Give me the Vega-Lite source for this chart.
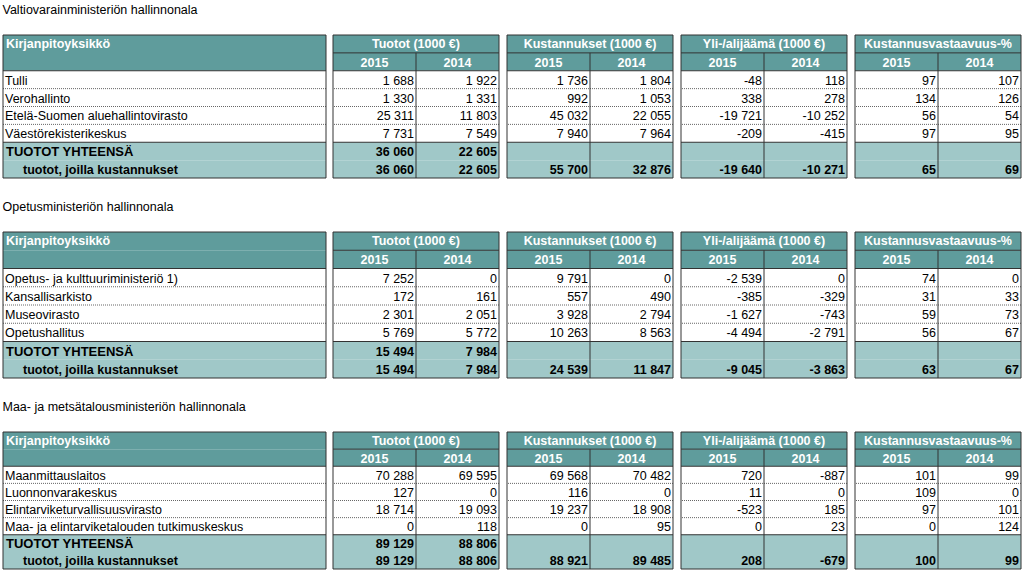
{
"$schema":"https://vega.github.io/schema/vega-lite/v6.json",
"padding":{"left":2,"top":4,"right":0,"bottom":0},
"background":"#ffffff",
"config":{"font":"Liberation Sans","view":{"stroke":null},
 "title":{"anchor":"start","fontSize":12.5,"fontWeight":"normal","color":"#000000","offset":18,"font":"Liberation Sans"},
 "locale":{"number":{"decimal":",","thousands":" ","grouping":[3],"currency":["","€"],"minus":"-"}}},
"datasets":{"tbl":[
{"s":1,"g":"lbl","r":"h1","t":"Kirjanpitoyksikkö"},{"s":1,"g":"lbl","r":"h2"},
{"s":1,"g":"lbl","r":"r1","t":"Tulli"},{"s":1,"g":"lbl","r":"r2","t":"Verohallinto"},
{"s":1,"g":"lbl","r":"r3","t":"Etelä-Suomen aluehallintovirasto"},{"s":1,"g":"lbl","r":"r4","t":"Väestörekisterikeskus"},
{"s":1,"g":"lbl","r":"t1","t":"TUOTOT YHTEENSÄ"},{"s":1,"g":"lbl","r":"t2","t":"tuotot, joilla kustannukset"},
{"s":1,"g":"tuo","r":"h1","t":"Tuotot (1000 €)"},{"s":1,"g":"tuo","r":"h2"},
{"s":1,"g":"tuo","r":"r1","2015":1688,"2014":1922},{"s":1,"g":"tuo","r":"r2","2015":1330,"2014":1331},
{"s":1,"g":"tuo","r":"r3","2015":25311,"2014":11803},{"s":1,"g":"tuo","r":"r4","2015":7731,"2014":7549},
{"s":1,"g":"tuo","r":"t1","2015":36060,"2014":22605},{"s":1,"g":"tuo","r":"t2","2015":36060,"2014":22605},
{"s":1,"g":"kus","r":"h1","t":"Kustannukset (1000 €)"},{"s":1,"g":"kus","r":"h2"},
{"s":1,"g":"kus","r":"r1","2015":1736,"2014":1804},{"s":1,"g":"kus","r":"r2","2015":992,"2014":1053},
{"s":1,"g":"kus","r":"r3","2015":45032,"2014":22055},{"s":1,"g":"kus","r":"r4","2015":7940,"2014":7964},
{"s":1,"g":"kus","r":"t1"},{"s":1,"g":"kus","r":"t2","2015":55700,"2014":32876},
{"s":1,"g":"yli","r":"h1","t":"Yli-/alijäämä (1000 €)"},{"s":1,"g":"yli","r":"h2"},
{"s":1,"g":"yli","r":"r1","2015":-48,"2014":118},{"s":1,"g":"yli","r":"r2","2015":338,"2014":278},
{"s":1,"g":"yli","r":"r3","2015":-19721,"2014":-10252},{"s":1,"g":"yli","r":"r4","2015":-209,"2014":-415},
{"s":1,"g":"yli","r":"t1"},{"s":1,"g":"yli","r":"t2","2015":-19640,"2014":-10271},
{"s":1,"g":"kv","r":"h1","t":"Kustannusvastaavuus-%"},{"s":1,"g":"kv","r":"h2"},
{"s":1,"g":"kv","r":"r1","2015":97,"2014":107},{"s":1,"g":"kv","r":"r2","2015":134,"2014":126},
{"s":1,"g":"kv","r":"r3","2015":56,"2014":54},{"s":1,"g":"kv","r":"r4","2015":97,"2014":95},
{"s":1,"g":"kv","r":"t1"},{"s":1,"g":"kv","r":"t2","2015":65,"2014":69},

{"s":2,"g":"lbl","r":"h1","t":"Kirjanpitoyksikkö"},{"s":2,"g":"lbl","r":"h2"},
{"s":2,"g":"lbl","r":"r1","t":"Opetus- ja kulttuuriministeriö 1)"},{"s":2,"g":"lbl","r":"r2","t":"Kansallisarkisto"},
{"s":2,"g":"lbl","r":"r3","t":"Museovirasto"},{"s":2,"g":"lbl","r":"r4","t":"Opetushallitus"},
{"s":2,"g":"lbl","r":"t1","t":"TUOTOT YHTEENSÄ"},{"s":2,"g":"lbl","r":"t2","t":"tuotot, joilla kustannukset"},
{"s":2,"g":"tuo","r":"h1","t":"Tuotot (1000 €)"},{"s":2,"g":"tuo","r":"h2"},
{"s":2,"g":"tuo","r":"r1","2015":7252,"2014":0},{"s":2,"g":"tuo","r":"r2","2015":172,"2014":161},
{"s":2,"g":"tuo","r":"r3","2015":2301,"2014":2051},{"s":2,"g":"tuo","r":"r4","2015":5769,"2014":5772},
{"s":2,"g":"tuo","r":"t1","2015":15494,"2014":7984},{"s":2,"g":"tuo","r":"t2","2015":15494,"2014":7984},
{"s":2,"g":"kus","r":"h1","t":"Kustannukset (1000 €)"},{"s":2,"g":"kus","r":"h2"},
{"s":2,"g":"kus","r":"r1","2015":9791,"2014":0},{"s":2,"g":"kus","r":"r2","2015":557,"2014":490},
{"s":2,"g":"kus","r":"r3","2015":3928,"2014":2794},{"s":2,"g":"kus","r":"r4","2015":10263,"2014":8563},
{"s":2,"g":"kus","r":"t1"},{"s":2,"g":"kus","r":"t2","2015":24539,"2014":11847},
{"s":2,"g":"yli","r":"h1","t":"Yli-/alijäämä (1000 €)"},{"s":2,"g":"yli","r":"h2"},
{"s":2,"g":"yli","r":"r1","2015":-2539,"2014":0},{"s":2,"g":"yli","r":"r2","2015":-385,"2014":-329},
{"s":2,"g":"yli","r":"r3","2015":-1627,"2014":-743},{"s":2,"g":"yli","r":"r4","2015":-4494,"2014":-2791},
{"s":2,"g":"yli","r":"t1"},{"s":2,"g":"yli","r":"t2","2015":-9045,"2014":-3863},
{"s":2,"g":"kv","r":"h1","t":"Kustannusvastaavuus-%"},{"s":2,"g":"kv","r":"h2"},
{"s":2,"g":"kv","r":"r1","2015":74,"2014":0},{"s":2,"g":"kv","r":"r2","2015":31,"2014":33},
{"s":2,"g":"kv","r":"r3","2015":59,"2014":73},{"s":2,"g":"kv","r":"r4","2015":56,"2014":67},
{"s":2,"g":"kv","r":"t1"},{"s":2,"g":"kv","r":"t2","2015":63,"2014":67},

{"s":3,"g":"lbl","r":"h1","t":"Kirjanpitoyksikkö"},{"s":3,"g":"lbl","r":"h2"},
{"s":3,"g":"lbl","r":"r1","t":"Maanmittauslaitos"},{"s":3,"g":"lbl","r":"r2","t":"Luonnonvarakeskus"},
{"s":3,"g":"lbl","r":"r3","t":"Elintarviketurvallisuusvirasto"},{"s":3,"g":"lbl","r":"r4","t":"Maa- ja elintarviketalouden tutkimuskeskus"},
{"s":3,"g":"lbl","r":"t1","t":"TUOTOT YHTEENSÄ"},{"s":3,"g":"lbl","r":"t2","t":"tuotot, joilla kustannukset"},
{"s":3,"g":"tuo","r":"h1","t":"Tuotot (1000 €)"},{"s":3,"g":"tuo","r":"h2"},
{"s":3,"g":"tuo","r":"r1","2015":70288,"2014":69595},{"s":3,"g":"tuo","r":"r2","2015":127,"2014":0},
{"s":3,"g":"tuo","r":"r3","2015":18714,"2014":19093},{"s":3,"g":"tuo","r":"r4","2015":0,"2014":118},
{"s":3,"g":"tuo","r":"t1","2015":89129,"2014":88806},{"s":3,"g":"tuo","r":"t2","2015":89129,"2014":88806},
{"s":3,"g":"kus","r":"h1","t":"Kustannukset (1000 €)"},{"s":3,"g":"kus","r":"h2"},
{"s":3,"g":"kus","r":"r1","2015":69568,"2014":70482},{"s":3,"g":"kus","r":"r2","2015":116,"2014":0},
{"s":3,"g":"kus","r":"r3","2015":19237,"2014":18908},{"s":3,"g":"kus","r":"r4","2015":0,"2014":95},
{"s":3,"g":"kus","r":"t1"},{"s":3,"g":"kus","r":"t2","2015":88921,"2014":89485},
{"s":3,"g":"yli","r":"h1","t":"Yli-/alijäämä (1000 €)"},{"s":3,"g":"yli","r":"h2"},
{"s":3,"g":"yli","r":"r1","2015":720,"2014":-887},{"s":3,"g":"yli","r":"r2","2015":11,"2014":0},
{"s":3,"g":"yli","r":"r3","2015":-523,"2014":185},{"s":3,"g":"yli","r":"r4","2015":0,"2014":23},
{"s":3,"g":"yli","r":"t1"},{"s":3,"g":"yli","r":"t2","2015":208,"2014":-679},
{"s":3,"g":"kv","r":"h1","t":"Kustannusvastaavuus-%"},{"s":3,"g":"kv","r":"h2"},
{"s":3,"g":"kv","r":"r1","2015":101,"2014":99},{"s":3,"g":"kv","r":"r2","2015":109,"2014":0},
{"s":3,"g":"kv","r":"r3","2015":97,"2014":101},{"s":3,"g":"kv","r":"r4","2015":0,"2014":124},
{"s":3,"g":"kv","r":"t1"},{"s":3,"g":"kv","r":"t2","2015":100,"2014":99}
]},
"vconcat":[
{"title":"Valtiovarainministeriön hallinnonala","spacing":5,"hconcat":[
 {"width":323,"height":143,"data":{"name":"tbl"},"transform":[{"filter":"datum.s==1 && datum.g=='lbl'"}],
  "layer":[
   {"mark":{"type":"rect"},"encoding":{"x":{"value":0},"x2":{"value":"width"},"y":{"field":"r","type":"nominal","scale":{"type":"band","domain":["h1","h2","r1","r2","r3","r4","t1","t2"],"paddingInner":0,"paddingOuter":0},"axis":null},"fill":{"field":"r","type":"nominal","scale":{"domain":["h1","h2","r1","r2","r3","r4","t1","t2"],"range":["#5f9c9c","#5f9c9c","#ffffff","#ffffff","#ffffff","#ffffff","#a0c8c8","#a0c8c8"]},"legend":null}}},
   {"transform":[{"filter":"datum.r=='r1'||datum.r=='t1'"}],"mark":{"type":"rule","color":"#333333"},"encoding":{"y":{"field":"r","type":"nominal","bandPosition":0,"scale":{"type":"band","domain":["h1","h2","r1","r2","r3","r4","t1","t2"],"paddingInner":0,"paddingOuter":0},"axis":null}}},
   {"transform":[{"filter":"datum.r=='r2'||datum.r=='r3'||datum.r=='r4'"}],"mark":{"type":"rule","color":"#666666","strokeDash":[1,1]},"encoding":{"y":{"field":"r","type":"nominal","bandPosition":0,"scale":{"type":"band","domain":["h1","h2","r1","r2","r3","r4","t1","t2"],"paddingInner":0,"paddingOuter":0},"axis":null}}},
   {"transform":[{"filter":"datum.r=='h1'"}],"mark":{"type":"text","align":"left","baseline":"middle","dx":3,"fontSize":12.5,"fontWeight":"bold","color":"#ffffff"},"encoding":{"x":{"field":"g","type":"nominal","bandPosition":0,"scale":{"type":"band","paddingInner":0,"paddingOuter":0},"axis":null},"y":{"field":"r","type":"nominal","bandPosition":0.5,"scale":{"type":"band","domain":["h1","h2","r1","r2","r3","r4","t1","t2"],"paddingInner":0,"paddingOuter":0},"axis":null},"text":{"field":"t"}}},
   {"transform":[{"filter":"indexof(['r1','r2','r3','r4'],datum.r)>=0"}],"mark":{"type":"text","align":"left","baseline":"middle","dx":2,"dy":1,"fontSize":12.5,"color":"#000000"},"encoding":{"x":{"field":"g","type":"nominal","bandPosition":0,"scale":{"type":"band","paddingInner":0,"paddingOuter":0},"axis":null},"y":{"field":"r","type":"nominal","bandPosition":0.5,"scale":{"type":"band","domain":["h1","h2","r1","r2","r3","r4","t1","t2"],"paddingInner":0,"paddingOuter":0},"axis":null},"text":{"field":"t"}}},
   {"transform":[{"filter":"datum.r=='t1'"}],"mark":{"type":"text","align":"left","baseline":"middle","dx":3,"dy":1,"fontSize":13,"fontWeight":"bold","color":"#000000"},"encoding":{"x":{"field":"g","type":"nominal","bandPosition":0,"scale":{"type":"band","paddingInner":0,"paddingOuter":0},"axis":null},"y":{"field":"r","type":"nominal","bandPosition":0.5,"scale":{"type":"band","domain":["h1","h2","r1","r2","r3","r4","t1","t2"],"paddingInner":0,"paddingOuter":0},"axis":null},"text":{"field":"t"}}},
   {"transform":[{"filter":"datum.r=='t2'"}],"mark":{"type":"text","align":"left","baseline":"middle","dx":20,"dy":1,"fontSize":12.5,"fontWeight":"bold","color":"#000000"},"encoding":{"x":{"field":"g","type":"nominal","bandPosition":0,"scale":{"type":"band","paddingInner":0,"paddingOuter":0},"axis":null},"y":{"field":"r","type":"nominal","bandPosition":0.5,"scale":{"type":"band","domain":["h1","h2","r1","r2","r3","r4","t1","t2"],"paddingInner":0,"paddingOuter":0},"axis":null},"text":{"field":"t"}}},
   {"transform":[{"filter":"datum.r=='h1'"}],"mark":{"type":"rect","fillOpacity":0,"stroke":"#333333","strokeWidth":1},"encoding":{"x":{"value":0},"x2":{"value":"width"},"y":{"value":0},"y2":{"value":"height"}}}
  ]},
 {"data":{"name":"tbl"},"transform":[{"filter":"datum.s==1 && datum.g!='lbl'"},{"fold":["2015","2014"],"as":["c","v"]}],
  "facet":{"column":{"field":"g","type":"nominal","sort":["tuo","kus","yli","kv"],"title":null,"header":{"labels":false,"title":null}}},
  "spacing":6,
  "spec":{"width":166,"height":143,"layer":[
   {"transform":[{"filter":"datum.c=='2015'"}],"mark":{"type":"rect"},"encoding":{"x":{"value":0},"x2":{"value":"width"},"y":{"field":"r","type":"nominal","scale":{"type":"band","domain":["h1","h2","r1","r2","r3","r4","t1","t2"],"paddingInner":0,"paddingOuter":0},"axis":null},"fill":{"field":"r","type":"nominal","scale":{"domain":["h1","h2","r1","r2","r3","r4","t1","t2"],"range":["#5f9c9c","#5f9c9c","#ffffff","#ffffff","#ffffff","#ffffff","#a0c8c8","#a0c8c8"]},"legend":null}}},
   {"transform":[{"filter":"datum.c=='2015' && (datum.r=='h2'||datum.r=='r1'||datum.r=='t1')"}],"mark":{"type":"rule","color":"#333333"},"encoding":{"y":{"field":"r","type":"nominal","bandPosition":0,"scale":{"type":"band","domain":["h1","h2","r1","r2","r3","r4","t1","t2"],"paddingInner":0,"paddingOuter":0},"axis":null}}},
   {"transform":[{"filter":"datum.c=='2015' && (datum.r=='r2'||datum.r=='r3'||datum.r=='r4')"}],"mark":{"type":"rule","color":"#666666","strokeDash":[1,1]},"encoding":{"y":{"field":"r","type":"nominal","bandPosition":0,"scale":{"type":"band","domain":["h1","h2","r1","r2","r3","r4","t1","t2"],"paddingInner":0,"paddingOuter":0},"axis":null}}},
   {"transform":[{"filter":"datum.c=='2014' && datum.r=='h2'"}],"mark":{"type":"rule","color":"#333333"},"encoding":{"x":{"field":"c","type":"nominal","bandPosition":0,"scale":{"type":"band","domain":["2015","2014"],"paddingInner":0,"paddingOuter":0},"axis":null},"y":{"field":"r","type":"nominal","bandPosition":0,"scale":{"type":"band","domain":["h1","h2","r1","r2","r3","r4","t1","t2"],"paddingInner":0,"paddingOuter":0},"axis":null},"y2":{"value":"height"}}},
   {"transform":[{"filter":"datum.c=='2014' && datum.r=='h1'"}],"mark":{"type":"text","align":"center","baseline":"middle","fontSize":12.5,"fontWeight":"bold","color":"#ffffff"},"encoding":{"x":{"field":"c","type":"nominal","bandPosition":0,"scale":{"type":"band","domain":["2015","2014"],"paddingInner":0,"paddingOuter":0},"axis":null},"y":{"field":"r","type":"nominal","bandPosition":0.5,"scale":{"type":"band","domain":["h1","h2","r1","r2","r3","r4","t1","t2"],"paddingInner":0,"paddingOuter":0},"axis":null},"text":{"field":"t"}}},
   {"transform":[{"filter":"datum.r=='h2'"}],"mark":{"type":"text","align":"center","baseline":"middle","dy":1,"fontSize":12.5,"fontWeight":"bold","color":"#ffffff"},"encoding":{"x":{"field":"c","type":"nominal","bandPosition":0.5,"scale":{"type":"band","domain":["2015","2014"],"paddingInner":0,"paddingOuter":0},"axis":null},"y":{"field":"r","type":"nominal","bandPosition":0.5,"scale":{"type":"band","domain":["h1","h2","r1","r2","r3","r4","t1","t2"],"paddingInner":0,"paddingOuter":0},"axis":null},"text":{"field":"c"}}},
   {"transform":[{"filter":"isValid(datum.v) && indexof(['r1','r2','r3','r4'],datum.r)>=0"}],"mark":{"type":"text","align":"right","baseline":"middle","dx":-2,"dy":1,"fontSize":12.5,"color":"#000000"},"encoding":{"x":{"field":"c","type":"nominal","bandPosition":1,"scale":{"type":"band","domain":["2015","2014"],"paddingInner":0,"paddingOuter":0},"axis":null},"y":{"field":"r","type":"nominal","bandPosition":0.5,"scale":{"type":"band","domain":["h1","h2","r1","r2","r3","r4","t1","t2"],"paddingInner":0,"paddingOuter":0},"axis":null},"text":{"field":"v","type":"quantitative","format":",d"}}},
   {"transform":[{"filter":"isValid(datum.v) && (datum.r=='t1'||datum.r=='t2')"}],"mark":{"type":"text","align":"right","baseline":"middle","dx":-2,"dy":1,"fontSize":12.5,"fontWeight":"bold","color":"#000000"},"encoding":{"x":{"field":"c","type":"nominal","bandPosition":1,"scale":{"type":"band","domain":["2015","2014"],"paddingInner":0,"paddingOuter":0},"axis":null},"y":{"field":"r","type":"nominal","bandPosition":0.5,"scale":{"type":"band","domain":["h1","h2","r1","r2","r3","r4","t1","t2"],"paddingInner":0,"paddingOuter":0},"axis":null},"text":{"field":"v","type":"quantitative","format":",d"}}},
   {"transform":[{"filter":"datum.c=='2015' && datum.r=='h1'"}],"mark":{"type":"rect","fillOpacity":0,"stroke":"#333333","strokeWidth":1},"encoding":{"x":{"value":0},"x2":{"value":"width"},"y":{"value":0},"y2":{"value":"height"}}}
  ]}}
]},
{"title":"Opetusministeriön hallinnonala","spacing":5,"hconcat":[
 {"width":323,"height":146,"data":{"name":"tbl"},"transform":[{"filter":"datum.s==2 && datum.g=='lbl'"}],
  "layer":[
   {"mark":{"type":"rect"},"encoding":{"x":{"value":0},"x2":{"value":"width"},"y":{"field":"r","type":"nominal","scale":{"type":"band","domain":["h1","h2","r1","r2","r3","r4","t1","t2"],"paddingInner":0,"paddingOuter":0},"axis":null},"fill":{"field":"r","type":"nominal","scale":{"domain":["h1","h2","r1","r2","r3","r4","t1","t2"],"range":["#5f9c9c","#5f9c9c","#ffffff","#ffffff","#ffffff","#ffffff","#a0c8c8","#a0c8c8"]},"legend":null}}},
   {"transform":[{"filter":"datum.r=='r1'||datum.r=='t1'"}],"mark":{"type":"rule","color":"#333333"},"encoding":{"y":{"field":"r","type":"nominal","bandPosition":0,"scale":{"type":"band","domain":["h1","h2","r1","r2","r3","r4","t1","t2"],"paddingInner":0,"paddingOuter":0},"axis":null}}},
   {"transform":[{"filter":"datum.r=='r2'||datum.r=='r3'||datum.r=='r4'"}],"mark":{"type":"rule","color":"#666666","strokeDash":[1,1]},"encoding":{"y":{"field":"r","type":"nominal","bandPosition":0,"scale":{"type":"band","domain":["h1","h2","r1","r2","r3","r4","t1","t2"],"paddingInner":0,"paddingOuter":0},"axis":null}}},
   {"transform":[{"filter":"datum.r=='h1'"}],"mark":{"type":"text","align":"left","baseline":"middle","dx":3,"fontSize":12.5,"fontWeight":"bold","color":"#ffffff"},"encoding":{"x":{"field":"g","type":"nominal","bandPosition":0,"scale":{"type":"band","paddingInner":0,"paddingOuter":0},"axis":null},"y":{"field":"r","type":"nominal","bandPosition":0.5,"scale":{"type":"band","domain":["h1","h2","r1","r2","r3","r4","t1","t2"],"paddingInner":0,"paddingOuter":0},"axis":null},"text":{"field":"t"}}},
   {"transform":[{"filter":"indexof(['r1','r2','r3','r4'],datum.r)>=0"}],"mark":{"type":"text","align":"left","baseline":"middle","dx":2,"dy":1,"fontSize":12.5,"color":"#000000"},"encoding":{"x":{"field":"g","type":"nominal","bandPosition":0,"scale":{"type":"band","paddingInner":0,"paddingOuter":0},"axis":null},"y":{"field":"r","type":"nominal","bandPosition":0.5,"scale":{"type":"band","domain":["h1","h2","r1","r2","r3","r4","t1","t2"],"paddingInner":0,"paddingOuter":0},"axis":null},"text":{"field":"t"}}},
   {"transform":[{"filter":"datum.r=='t1'"}],"mark":{"type":"text","align":"left","baseline":"middle","dx":3,"dy":1,"fontSize":13,"fontWeight":"bold","color":"#000000"},"encoding":{"x":{"field":"g","type":"nominal","bandPosition":0,"scale":{"type":"band","paddingInner":0,"paddingOuter":0},"axis":null},"y":{"field":"r","type":"nominal","bandPosition":0.5,"scale":{"type":"band","domain":["h1","h2","r1","r2","r3","r4","t1","t2"],"paddingInner":0,"paddingOuter":0},"axis":null},"text":{"field":"t"}}},
   {"transform":[{"filter":"datum.r=='t2'"}],"mark":{"type":"text","align":"left","baseline":"middle","dx":20,"dy":1,"fontSize":12.5,"fontWeight":"bold","color":"#000000"},"encoding":{"x":{"field":"g","type":"nominal","bandPosition":0,"scale":{"type":"band","paddingInner":0,"paddingOuter":0},"axis":null},"y":{"field":"r","type":"nominal","bandPosition":0.5,"scale":{"type":"band","domain":["h1","h2","r1","r2","r3","r4","t1","t2"],"paddingInner":0,"paddingOuter":0},"axis":null},"text":{"field":"t"}}},
   {"transform":[{"filter":"datum.r=='h1'"}],"mark":{"type":"rect","fillOpacity":0,"stroke":"#333333","strokeWidth":1},"encoding":{"x":{"value":0},"x2":{"value":"width"},"y":{"value":0},"y2":{"value":"height"}}}
  ]},
 {"data":{"name":"tbl"},"transform":[{"filter":"datum.s==2 && datum.g!='lbl'"},{"fold":["2015","2014"],"as":["c","v"]}],
  "facet":{"column":{"field":"g","type":"nominal","sort":["tuo","kus","yli","kv"],"title":null,"header":{"labels":false,"title":null}}},
  "spacing":6,
  "spec":{"width":166,"height":146,"layer":[
   {"transform":[{"filter":"datum.c=='2015'"}],"mark":{"type":"rect"},"encoding":{"x":{"value":0},"x2":{"value":"width"},"y":{"field":"r","type":"nominal","scale":{"type":"band","domain":["h1","h2","r1","r2","r3","r4","t1","t2"],"paddingInner":0,"paddingOuter":0},"axis":null},"fill":{"field":"r","type":"nominal","scale":{"domain":["h1","h2","r1","r2","r3","r4","t1","t2"],"range":["#5f9c9c","#5f9c9c","#ffffff","#ffffff","#ffffff","#ffffff","#a0c8c8","#a0c8c8"]},"legend":null}}},
   {"transform":[{"filter":"datum.c=='2015' && (datum.r=='h2'||datum.r=='r1'||datum.r=='t1')"}],"mark":{"type":"rule","color":"#333333"},"encoding":{"y":{"field":"r","type":"nominal","bandPosition":0,"scale":{"type":"band","domain":["h1","h2","r1","r2","r3","r4","t1","t2"],"paddingInner":0,"paddingOuter":0},"axis":null}}},
   {"transform":[{"filter":"datum.c=='2015' && (datum.r=='r2'||datum.r=='r3'||datum.r=='r4')"}],"mark":{"type":"rule","color":"#666666","strokeDash":[1,1]},"encoding":{"y":{"field":"r","type":"nominal","bandPosition":0,"scale":{"type":"band","domain":["h1","h2","r1","r2","r3","r4","t1","t2"],"paddingInner":0,"paddingOuter":0},"axis":null}}},
   {"transform":[{"filter":"datum.c=='2014' && datum.r=='h2'"}],"mark":{"type":"rule","color":"#333333"},"encoding":{"x":{"field":"c","type":"nominal","bandPosition":0,"scale":{"type":"band","domain":["2015","2014"],"paddingInner":0,"paddingOuter":0},"axis":null},"y":{"field":"r","type":"nominal","bandPosition":0,"scale":{"type":"band","domain":["h1","h2","r1","r2","r3","r4","t1","t2"],"paddingInner":0,"paddingOuter":0},"axis":null},"y2":{"value":"height"}}},
   {"transform":[{"filter":"datum.c=='2014' && datum.r=='h1'"}],"mark":{"type":"text","align":"center","baseline":"middle","fontSize":12.5,"fontWeight":"bold","color":"#ffffff"},"encoding":{"x":{"field":"c","type":"nominal","bandPosition":0,"scale":{"type":"band","domain":["2015","2014"],"paddingInner":0,"paddingOuter":0},"axis":null},"y":{"field":"r","type":"nominal","bandPosition":0.5,"scale":{"type":"band","domain":["h1","h2","r1","r2","r3","r4","t1","t2"],"paddingInner":0,"paddingOuter":0},"axis":null},"text":{"field":"t"}}},
   {"transform":[{"filter":"datum.r=='h2'"}],"mark":{"type":"text","align":"center","baseline":"middle","dy":1,"fontSize":12.5,"fontWeight":"bold","color":"#ffffff"},"encoding":{"x":{"field":"c","type":"nominal","bandPosition":0.5,"scale":{"type":"band","domain":["2015","2014"],"paddingInner":0,"paddingOuter":0},"axis":null},"y":{"field":"r","type":"nominal","bandPosition":0.5,"scale":{"type":"band","domain":["h1","h2","r1","r2","r3","r4","t1","t2"],"paddingInner":0,"paddingOuter":0},"axis":null},"text":{"field":"c"}}},
   {"transform":[{"filter":"isValid(datum.v) && indexof(['r1','r2','r3','r4'],datum.r)>=0"}],"mark":{"type":"text","align":"right","baseline":"middle","dx":-2,"dy":1,"fontSize":12.5,"color":"#000000"},"encoding":{"x":{"field":"c","type":"nominal","bandPosition":1,"scale":{"type":"band","domain":["2015","2014"],"paddingInner":0,"paddingOuter":0},"axis":null},"y":{"field":"r","type":"nominal","bandPosition":0.5,"scale":{"type":"band","domain":["h1","h2","r1","r2","r3","r4","t1","t2"],"paddingInner":0,"paddingOuter":0},"axis":null},"text":{"field":"v","type":"quantitative","format":",d"}}},
   {"transform":[{"filter":"isValid(datum.v) && (datum.r=='t1'||datum.r=='t2')"}],"mark":{"type":"text","align":"right","baseline":"middle","dx":-2,"dy":1,"fontSize":12.5,"fontWeight":"bold","color":"#000000"},"encoding":{"x":{"field":"c","type":"nominal","bandPosition":1,"scale":{"type":"band","domain":["2015","2014"],"paddingInner":0,"paddingOuter":0},"axis":null},"y":{"field":"r","type":"nominal","bandPosition":0.5,"scale":{"type":"band","domain":["h1","h2","r1","r2","r3","r4","t1","t2"],"paddingInner":0,"paddingOuter":0},"axis":null},"text":{"field":"v","type":"quantitative","format":",d"}}},
   {"transform":[{"filter":"datum.c=='2015' && datum.r=='h1'"}],"mark":{"type":"rect","fillOpacity":0,"stroke":"#333333","strokeWidth":1},"encoding":{"x":{"value":0},"x2":{"value":"width"},"y":{"value":0},"y2":{"value":"height"}}}
  ]}}
]},
{"title":"Maa- ja metsätalousministeriön hallinnonala","spacing":5,"hconcat":[
 {"width":323,"height":137,"data":{"name":"tbl"},"transform":[{"filter":"datum.s==3 && datum.g=='lbl'"}],
  "layer":[
   {"mark":{"type":"rect"},"encoding":{"x":{"value":0},"x2":{"value":"width"},"y":{"field":"r","type":"nominal","scale":{"type":"band","domain":["h1","h2","r1","r2","r3","r4","t1","t2"],"paddingInner":0,"paddingOuter":0},"axis":null},"fill":{"field":"r","type":"nominal","scale":{"domain":["h1","h2","r1","r2","r3","r4","t1","t2"],"range":["#5f9c9c","#5f9c9c","#ffffff","#ffffff","#ffffff","#ffffff","#a0c8c8","#a0c8c8"]},"legend":null}}},
   {"transform":[{"filter":"datum.r=='r1'||datum.r=='t1'"}],"mark":{"type":"rule","color":"#333333"},"encoding":{"y":{"field":"r","type":"nominal","bandPosition":0,"scale":{"type":"band","domain":["h1","h2","r1","r2","r3","r4","t1","t2"],"paddingInner":0,"paddingOuter":0},"axis":null}}},
   {"transform":[{"filter":"datum.r=='r2'||datum.r=='r3'||datum.r=='r4'"}],"mark":{"type":"rule","color":"#666666","strokeDash":[1,1]},"encoding":{"y":{"field":"r","type":"nominal","bandPosition":0,"scale":{"type":"band","domain":["h1","h2","r1","r2","r3","r4","t1","t2"],"paddingInner":0,"paddingOuter":0},"axis":null}}},
   {"transform":[{"filter":"datum.r=='h1'"}],"mark":{"type":"text","align":"left","baseline":"middle","dx":3,"fontSize":12.5,"fontWeight":"bold","color":"#ffffff"},"encoding":{"x":{"field":"g","type":"nominal","bandPosition":0,"scale":{"type":"band","paddingInner":0,"paddingOuter":0},"axis":null},"y":{"field":"r","type":"nominal","bandPosition":0.5,"scale":{"type":"band","domain":["h1","h2","r1","r2","r3","r4","t1","t2"],"paddingInner":0,"paddingOuter":0},"axis":null},"text":{"field":"t"}}},
   {"transform":[{"filter":"indexof(['r1','r2','r3','r4'],datum.r)>=0"}],"mark":{"type":"text","align":"left","baseline":"middle","dx":2,"dy":1,"fontSize":12.5,"color":"#000000"},"encoding":{"x":{"field":"g","type":"nominal","bandPosition":0,"scale":{"type":"band","paddingInner":0,"paddingOuter":0},"axis":null},"y":{"field":"r","type":"nominal","bandPosition":0.5,"scale":{"type":"band","domain":["h1","h2","r1","r2","r3","r4","t1","t2"],"paddingInner":0,"paddingOuter":0},"axis":null},"text":{"field":"t"}}},
   {"transform":[{"filter":"datum.r=='t1'"}],"mark":{"type":"text","align":"left","baseline":"middle","dx":3,"dy":1,"fontSize":13,"fontWeight":"bold","color":"#000000"},"encoding":{"x":{"field":"g","type":"nominal","bandPosition":0,"scale":{"type":"band","paddingInner":0,"paddingOuter":0},"axis":null},"y":{"field":"r","type":"nominal","bandPosition":0.5,"scale":{"type":"band","domain":["h1","h2","r1","r2","r3","r4","t1","t2"],"paddingInner":0,"paddingOuter":0},"axis":null},"text":{"field":"t"}}},
   {"transform":[{"filter":"datum.r=='t2'"}],"mark":{"type":"text","align":"left","baseline":"middle","dx":20,"dy":1,"fontSize":12.5,"fontWeight":"bold","color":"#000000"},"encoding":{"x":{"field":"g","type":"nominal","bandPosition":0,"scale":{"type":"band","paddingInner":0,"paddingOuter":0},"axis":null},"y":{"field":"r","type":"nominal","bandPosition":0.5,"scale":{"type":"band","domain":["h1","h2","r1","r2","r3","r4","t1","t2"],"paddingInner":0,"paddingOuter":0},"axis":null},"text":{"field":"t"}}},
   {"transform":[{"filter":"datum.r=='h1'"}],"mark":{"type":"rect","fillOpacity":0,"stroke":"#333333","strokeWidth":1},"encoding":{"x":{"value":0},"x2":{"value":"width"},"y":{"value":0},"y2":{"value":"height"}}}
  ]},
 {"data":{"name":"tbl"},"transform":[{"filter":"datum.s==3 && datum.g!='lbl'"},{"fold":["2015","2014"],"as":["c","v"]}],
  "facet":{"column":{"field":"g","type":"nominal","sort":["tuo","kus","yli","kv"],"title":null,"header":{"labels":false,"title":null}}},
  "spacing":6,
  "spec":{"width":166,"height":137,"layer":[
   {"transform":[{"filter":"datum.c=='2015'"}],"mark":{"type":"rect"},"encoding":{"x":{"value":0},"x2":{"value":"width"},"y":{"field":"r","type":"nominal","scale":{"type":"band","domain":["h1","h2","r1","r2","r3","r4","t1","t2"],"paddingInner":0,"paddingOuter":0},"axis":null},"fill":{"field":"r","type":"nominal","scale":{"domain":["h1","h2","r1","r2","r3","r4","t1","t2"],"range":["#5f9c9c","#5f9c9c","#ffffff","#ffffff","#ffffff","#ffffff","#a0c8c8","#a0c8c8"]},"legend":null}}},
   {"transform":[{"filter":"datum.c=='2015' && (datum.r=='h2'||datum.r=='r1'||datum.r=='t1')"}],"mark":{"type":"rule","color":"#333333"},"encoding":{"y":{"field":"r","type":"nominal","bandPosition":0,"scale":{"type":"band","domain":["h1","h2","r1","r2","r3","r4","t1","t2"],"paddingInner":0,"paddingOuter":0},"axis":null}}},
   {"transform":[{"filter":"datum.c=='2015' && (datum.r=='r2'||datum.r=='r3'||datum.r=='r4')"}],"mark":{"type":"rule","color":"#666666","strokeDash":[1,1]},"encoding":{"y":{"field":"r","type":"nominal","bandPosition":0,"scale":{"type":"band","domain":["h1","h2","r1","r2","r3","r4","t1","t2"],"paddingInner":0,"paddingOuter":0},"axis":null}}},
   {"transform":[{"filter":"datum.c=='2014' && datum.r=='h2'"}],"mark":{"type":"rule","color":"#333333"},"encoding":{"x":{"field":"c","type":"nominal","bandPosition":0,"scale":{"type":"band","domain":["2015","2014"],"paddingInner":0,"paddingOuter":0},"axis":null},"y":{"field":"r","type":"nominal","bandPosition":0,"scale":{"type":"band","domain":["h1","h2","r1","r2","r3","r4","t1","t2"],"paddingInner":0,"paddingOuter":0},"axis":null},"y2":{"value":"height"}}},
   {"transform":[{"filter":"datum.c=='2014' && datum.r=='h1'"}],"mark":{"type":"text","align":"center","baseline":"middle","fontSize":12.5,"fontWeight":"bold","color":"#ffffff"},"encoding":{"x":{"field":"c","type":"nominal","bandPosition":0,"scale":{"type":"band","domain":["2015","2014"],"paddingInner":0,"paddingOuter":0},"axis":null},"y":{"field":"r","type":"nominal","bandPosition":0.5,"scale":{"type":"band","domain":["h1","h2","r1","r2","r3","r4","t1","t2"],"paddingInner":0,"paddingOuter":0},"axis":null},"text":{"field":"t"}}},
   {"transform":[{"filter":"datum.r=='h2'"}],"mark":{"type":"text","align":"center","baseline":"middle","dy":1,"fontSize":12.5,"fontWeight":"bold","color":"#ffffff"},"encoding":{"x":{"field":"c","type":"nominal","bandPosition":0.5,"scale":{"type":"band","domain":["2015","2014"],"paddingInner":0,"paddingOuter":0},"axis":null},"y":{"field":"r","type":"nominal","bandPosition":0.5,"scale":{"type":"band","domain":["h1","h2","r1","r2","r3","r4","t1","t2"],"paddingInner":0,"paddingOuter":0},"axis":null},"text":{"field":"c"}}},
   {"transform":[{"filter":"isValid(datum.v) && indexof(['r1','r2','r3','r4'],datum.r)>=0"}],"mark":{"type":"text","align":"right","baseline":"middle","dx":-2,"dy":1,"fontSize":12.5,"color":"#000000"},"encoding":{"x":{"field":"c","type":"nominal","bandPosition":1,"scale":{"type":"band","domain":["2015","2014"],"paddingInner":0,"paddingOuter":0},"axis":null},"y":{"field":"r","type":"nominal","bandPosition":0.5,"scale":{"type":"band","domain":["h1","h2","r1","r2","r3","r4","t1","t2"],"paddingInner":0,"paddingOuter":0},"axis":null},"text":{"field":"v","type":"quantitative","format":",d"}}},
   {"transform":[{"filter":"isValid(datum.v) && (datum.r=='t1'||datum.r=='t2')"}],"mark":{"type":"text","align":"right","baseline":"middle","dx":-2,"dy":1,"fontSize":12.5,"fontWeight":"bold","color":"#000000"},"encoding":{"x":{"field":"c","type":"nominal","bandPosition":1,"scale":{"type":"band","domain":["2015","2014"],"paddingInner":0,"paddingOuter":0},"axis":null},"y":{"field":"r","type":"nominal","bandPosition":0.5,"scale":{"type":"band","domain":["h1","h2","r1","r2","r3","r4","t1","t2"],"paddingInner":0,"paddingOuter":0},"axis":null},"text":{"field":"v","type":"quantitative","format":",d"}}},
   {"transform":[{"filter":"datum.c=='2015' && datum.r=='h1'"}],"mark":{"type":"rect","fillOpacity":0,"stroke":"#333333","strokeWidth":1},"encoding":{"x":{"value":0},"x2":{"value":"width"},"y":{"value":0},"y2":{"value":"height"}}}
  ]}}
]}
],
"spacing":22
}
